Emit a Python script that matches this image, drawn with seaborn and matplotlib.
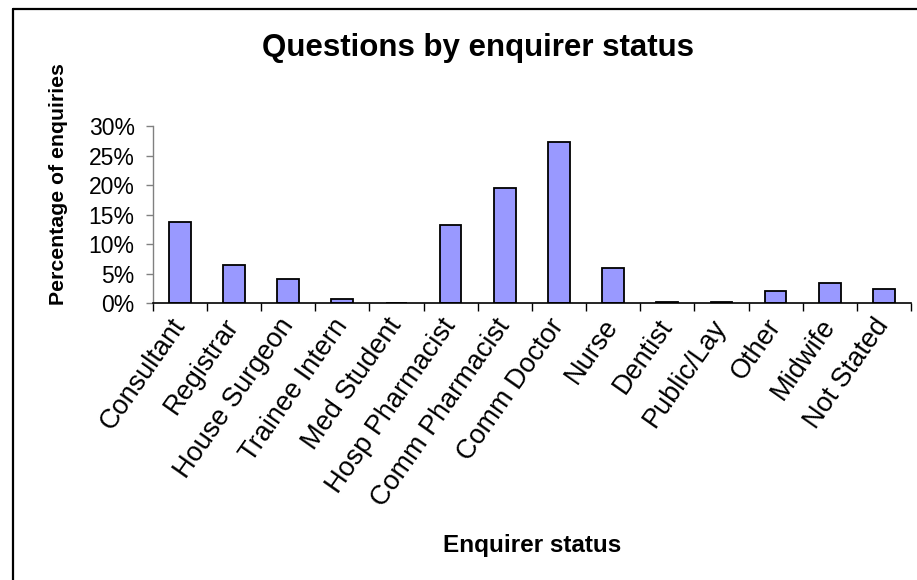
import matplotlib
matplotlib.use("Agg")
import matplotlib.pyplot as plt
import seaborn as sns
import numpy as np
from matplotlib.lines import Line2D
from matplotlib.ticker import FuncFormatter, FixedLocator

# data (percent of enquiries)
statuses = ['Consultant', 'Registrar', 'House Surgeon', 'Trainee Intern', 'Med Student',
            'Hosp Pharmacist', 'Comm Pharmacist', 'Comm Doctor', 'Nurse', 'Dentist',
            'Public/Lay', 'Other', 'Midwife', 'Not Stated']
pct = [13.8, 6.5, 4.2, 0.8, 0.0, 13.3, 19.5, 27.3, 6.0, 0.2, 0.2, 2.1, 3.4, 2.4]
y_ticks = [0, 5, 10, 15, 20, 25, 30]

sns.set_style("white")
plt.rcParams['font.family'] = ['Liberation Sans', 'DejaVu Sans']
plt.rcParams['text.color'] = 'black'
plt.rcParams['xtick.labelcolor'] = 'black'
plt.rcParams['ytick.labelcolor'] = 'black'

fig = plt.figure(figsize=(9.17, 5.8), dpi=100)
ax = fig.add_axes([0.1665, 0.477, 0.827, 0.305])

sns.barplot(x=statuses, y=pct, color='#9999FF', saturation=1, width=0.4,
            edgecolor='black', linewidth=1.3, ax=ax)

ax.set_xlim(-0.5, len(statuses) - 0.5)
ax.set_ylim(0, 30)
ax.set_yticks(y_ticks)
ax.yaxis.set_major_formatter(FuncFormatter(lambda v, p: f'{v:.0f}%'))

# excel-style ticks between categories
ax.xaxis.set_minor_locator(FixedLocator(np.arange(-0.5, len(statuses), 1.0)))
ax.tick_params(axis='x', which='major', length=0, pad=13, labelsize=19.5)
ax.tick_params(axis='x', which='minor', length=6, width=1, color='black', direction='out', bottom=True)
ax.tick_params(axis='y', length=5, width=1, color='#808080', direction='out', left=True,
               labelsize=16.5, pad=8)
plt.setp(ax.get_xticklabels(), rotation=55, ha='right', va='center', rotation_mode='anchor')

for s in ['top', 'right']:
    ax.spines[s].set_visible(False)
ax.spines['left'].set_color('#808080')
ax.spines['bottom'].set_color('black')
ax.spines['left'].set_linewidth(1)
ax.spines['bottom'].set_linewidth(1.2)

fig.text(0.521, 0.917, 'Questions by enquirer status', ha='center', va='center',
         fontsize=22.5, fontweight='bold')
fig.text(0.58, 0.06, 'Enquirer status', ha='center', va='center',
         fontsize=17.5, fontweight='bold')
fig.text(0.064, 0.683, 'Percentage of enquiries', ha='center', va='center',
         rotation=90, fontsize=15.3, fontweight='bold')

# outer chart frame (left and top edges visible)
fig.add_artist(Line2D([13 / 917, 13 / 917], [0, 1 - 8.5 / 580], transform=fig.transFigure,
                      color='black', linewidth=1.6))
fig.add_artist(Line2D([13 / 917, 1], [1 - 8.5 / 580, 1 - 8.5 / 580], transform=fig.transFigure,
                      color='black', linewidth=1.6))

fig.savefig('out.png', dpi=100)
